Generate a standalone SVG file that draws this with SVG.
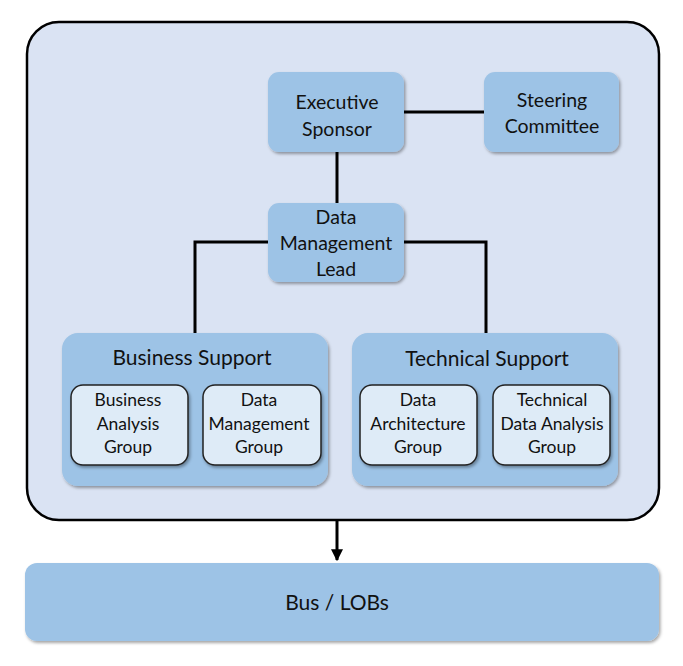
<svg xmlns="http://www.w3.org/2000/svg" width="683" height="666" viewBox="0 0 683 666">
<defs>
<filter id="sh" x="-10%" y="-10%" width="130%" height="130%">
<feDropShadow dx="1.5" dy="2" stdDeviation="1.5" flood-color="#000" flood-opacity="0.35"/>
</filter>
<marker id="arr" viewBox="0 0 10 10" refX="9" refY="5" markerWidth="4" markerHeight="4" orient="auto" markerUnits="strokeWidth">
<path d="M0,0 L10,5 L0,10 z" fill="#000"/>
</marker>
</defs>
<style>
text{font-family:Lato,"Open Sans","Liberation Sans",sans-serif;fill:#111;text-anchor:middle}
.box{fill:#9dc3e6;filter:url(#sh)}
.inner{fill:#deebf7;stroke:#222;stroke-width:1.5;filter:url(#sh)}
.t{font-size:19.5px}
.h{font-size:21px}
.s{font-size:17.5px}
.c{stroke:#000;stroke-width:3;fill:none}
</style>
<rect width="683" height="666" fill="#fff"/>
<g id="container">
<rect x="27" y="22" width="632" height="498" rx="32" fill="#dae3f3" stroke="#000" stroke-width="2.5"/>
</g>
<g id="connectors">
<line class="c" x1="404" y1="112" x2="484" y2="112"/>
<line class="c" x1="337" y1="152" x2="337" y2="203"/>
<polyline class="c" points="268,242 195,242 195,333"/>
<polyline class="c" points="404,242 486,242 486,333"/>
<line class="c" x1="337" y1="521" x2="337" y2="560" stroke-width="2.5" marker-end="url(#arr)"/>
</g>
<g id="executive-sponsor">
<rect class="box" x="268" y="72" width="136" height="80" rx="11"/>
<text class="t" x="337" y="109">Executive</text>
<text class="t" x="337" y="136">Sponsor</text>
</g>
<g id="steering-committee">
<rect class="box" x="484" y="72" width="135" height="80" rx="11"/>
<text class="t" x="552" y="107">Steering</text>
<text class="t" x="552" y="133">Committee</text>
</g>
<g id="data-management-lead">
<rect class="box" x="268" y="203" width="136" height="79" rx="11"/>
<text class="t" x="336" y="224">Data</text>
<text class="t" x="336" y="250">Management</text>
<text class="t" x="336" y="276">Lead</text>
</g>
<g id="business-support">
<rect class="box" x="62" y="333" width="266" height="153" rx="16"/>
<text class="h" x="192" y="365">Business Support</text>
</g>
<g id="business-analysis-group">
<rect class="inner" x="71" y="385" width="117" height="80" rx="12"/>
<text class="s" x="128" y="406">Business</text>
<text class="s" x="128" y="430">Analysis</text>
<text class="s" x="128" y="453">Group</text>
</g>
<g id="data-management-group">
<rect class="inner" x="203" y="385" width="118" height="80" rx="12"/>
<text class="s" x="259" y="406">Data</text>
<text class="s" x="259" y="430">Management</text>
<text class="s" x="259" y="453">Group</text>
</g>
<g id="technical-support">
<rect class="box" x="352" y="333" width="266" height="153" rx="16"/>
<text class="h" x="487" y="366">Technical Support</text>
</g>
<g id="data-architecture-group">
<rect class="inner" x="360" y="385" width="117" height="80" rx="12"/>
<text class="s" x="418" y="406">Data</text>
<text class="s" x="418" y="430">Architecture</text>
<text class="s" x="418" y="453">Group</text>
</g>
<g id="technical-data-analysis-group">
<rect class="inner" x="493" y="385" width="117" height="80" rx="12"/>
<text class="s" x="552" y="406">Technical</text>
<text class="s" x="552" y="430">Data Analysis</text>
<text class="s" x="552" y="453">Group</text>
</g>
<g id="bus-lobs">
<rect class="box" x="25" y="563" width="634" height="78" rx="12"/>
<text class="h" x="337" y="610">Bus / LOBs</text>
</g>
</svg>
